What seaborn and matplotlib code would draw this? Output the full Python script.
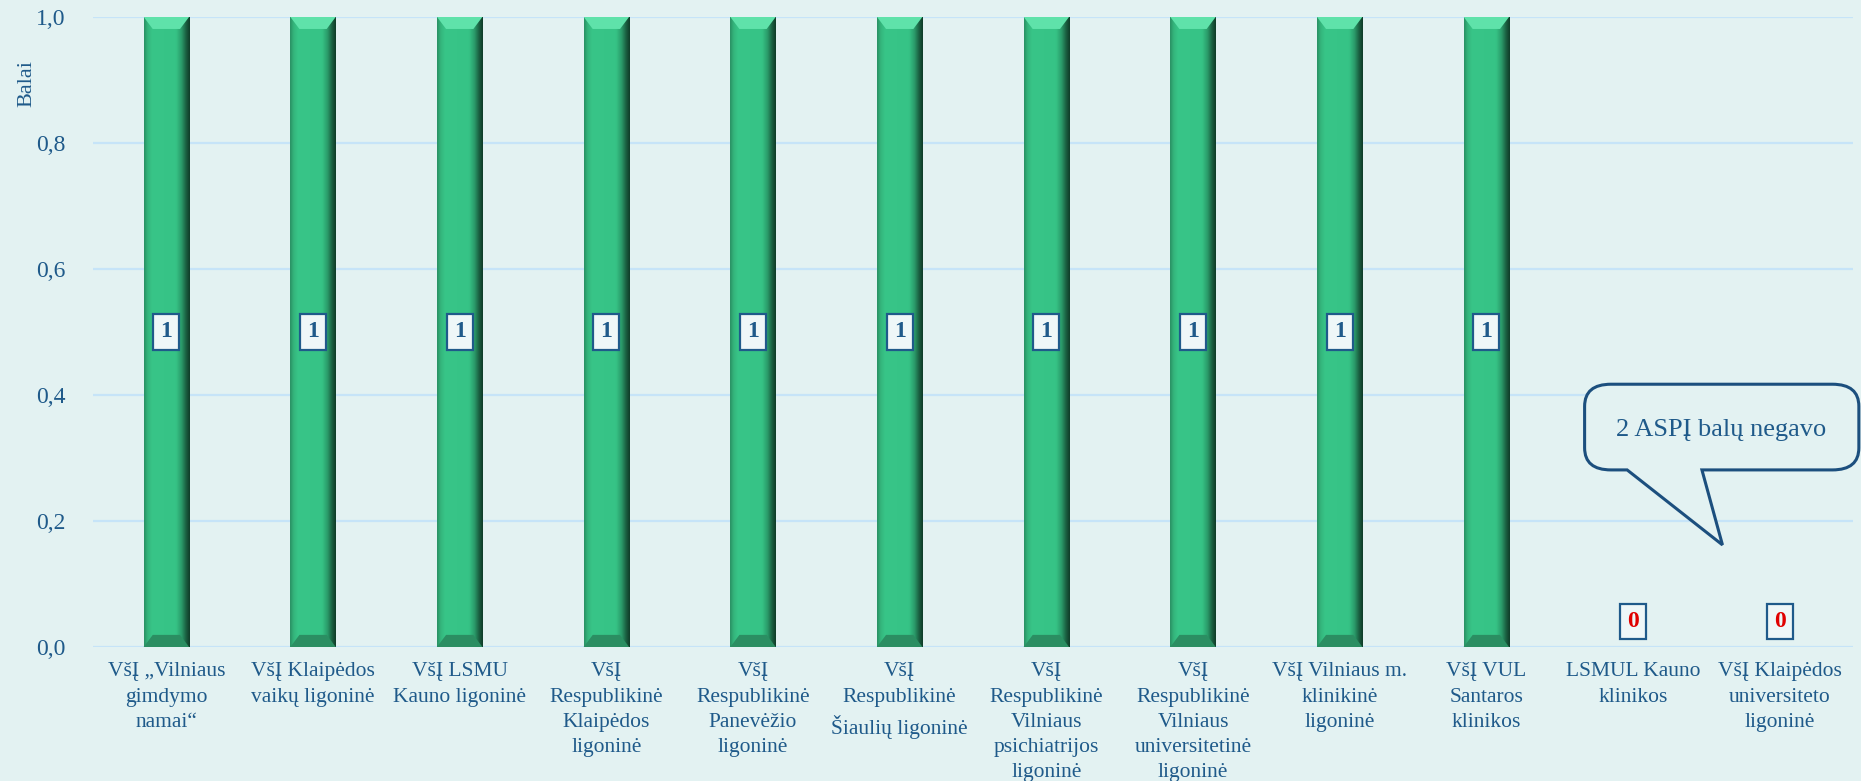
import numpy as np
import pandas as pd
import matplotlib
matplotlib.use("Agg")
import matplotlib.pyplot as plt
import seaborn as sns
from matplotlib.patches import Polygon, PathPatch
from matplotlib.path import Path
from matplotlib.colors import LinearSegmentedColormap

categories = [
    "VšĮ „Vilniaus\ngimdymo\nnamai“",
    "VšĮ Klaipėdos\nvaikų ligoninė",
    "VšĮ LSMU\nKauno ligoninė",
    "VšĮ\nRespublikinė\nKlaipėdos\nligoninė",
    "VšĮ\nRespublikinė\nPanevėžio\nligoninė",
    "VšĮ\nRespublikinė\nŠiaulių ligoninė",
    "VšĮ\nRespublikinė\nVilniaus\npsichiatrijos\nligoninė",
    "VšĮ\nRespublikinė\nVilniaus\nuniversitetinė\nligoninė",
    "VšĮ Vilniaus m.\nklinikinė\nligoninė",
    "VšĮ VUL\nSantaros\nklinikos",
    "LSMUL Kauno\nklinikos",
    "VšĮ Klaipėdos\nuniversiteto\nligoninė",
]
values = [1, 1, 1, 1, 1, 1, 1, 1, 1, 1, 0, 0]
y_ticks = [0.0, 0.2, 0.4, 0.6, 0.8, 1.0]
y_label = "Balai"
callout_text = "2 ASPĮ balų negavo"

BG = "#E3F2F2"
TXT = "#1F5A8A"
GRID = "#C6E4F8"
GREEN = "#36C587"

sns.set_theme(style="white")
plt.rcParams["font.family"] = ["Liberation Serif", "DejaVu Serif"]

fig = plt.figure(figsize=(18.61, 7.81), dpi=100, facecolor=BG)
ax = fig.add_axes([0.05, 0.1716, 0.9457, 0.8068])
ax.set_facecolor(BG)

df = pd.DataFrame({"cat": categories, "val": values})
sns.barplot(data=df, x="cat", y="val", color=GREEN, width=0.31, saturation=1,
            edgecolor="none", ax=ax, zorder=3)

ax.set_xlim(-0.5, len(categories) - 0.5)
ax.set_ylim(0, 1.0)

# 3D bevel effect on bars via gradient clipped to each bar
cmap = LinearSegmentedColormap.from_list(
    "bev", [(0.0, "#2A8F63"), (0.08, "#34B57C"), (0.18, "#38C588"),
            (0.7, "#36C386"), (0.82, "#2A9A69"), (0.92, "#1A5E40"), (1.0, "#0F3A27")])
grad = np.linspace(0, 1, 256).reshape(1, -1)
for p, v in zip(ax.patches, values):
    h = p.get_height()
    if h <= 0:
        continue
    x0, w = p.get_x(), p.get_width()
    im = ax.imshow(grad, extent=(x0, x0 + w, 0, h), aspect="auto", cmap=cmap,
                   zorder=3.1, interpolation="bicubic")
    im.set_clip_path(p)
    d = 0.012
    top = Polygon([(x0, h), (x0 + w, h), (x0 + w * 0.8, h - d * 1.6), (x0 + w * 0.2, h - d * 1.6)],
                  closed=True, facecolor="#5FE2AA", edgecolor="none", zorder=3.2)
    ax.add_patch(top)
    bot = Polygon([(x0, 0), (x0 + w, 0), (x0 + w * 0.8, d * 1.6), (x0 + w * 0.2, d * 1.6)],
                  closed=True, facecolor="#2B8E62", edgecolor="none", zorder=3.2)
    ax.add_patch(bot)

ax.set_xlim(-0.5, len(categories) - 0.5)
ax.set_ylim(0, 1.0)

# value labels
for p, v in zip(ax.patches, values):
    cx = p.get_x() + p.get_width() / 2
    if v > 0:
        ax.text(cx, v / 2, f"{v}", ha="center", va="center", fontsize=17, fontweight="bold",
                color=TXT, zorder=5,
                bbox=dict(boxstyle="square,pad=0.3", facecolor="#EEF7F8", edgecolor=TXT, linewidth=1.6))
    else:
        ax.annotate(f"{v}", (cx, v), xytext=(0, 11), textcoords="offset points",
                    ha="center", va="bottom", fontsize=17, fontweight="bold", color="#E00000",
                    zorder=5,
                    bbox=dict(boxstyle="square,pad=0.3", facecolor="#EEF7F8", edgecolor=TXT, linewidth=1.6))

ax.set_yticks(y_ticks)
ax.set_yticklabels([f"{t:.1f}".replace(".", ",") for t in y_ticks])
ax.yaxis.grid(True, color=GRID, linewidth=1.6, zorder=0)
ax.set_axisbelow(True)
for s in ax.spines.values():
    s.set_visible(False)
ax.tick_params(axis="both", length=0, colors=TXT)
ax.tick_params(axis="y", pad=20, labelsize=17)
ax.tick_params(axis="x", pad=11, labelsize=15.5)
for lab in ax.get_xticklabels():
    lab.set_linespacing(1.45)
ax.set_xlabel("")
ax.set_ylabel(y_label, color=TXT, fontsize=16)
ax.yaxis.set_label_coords(-0.0324, 0.895)

# speech-bubble callout
x0, x1 = 9.67, 11.54
y0, y1 = 0.281, 0.417
tx0, tx1 = 9.96, 10.47
tipx, tipy = 10.61, 0.162
r_x, r_y = 0.18, 0.035
verts = [
    (x0 + r_x, y1), (x1 - r_x, y1), (x1, y1), (x1, y1 - r_y),
    (x1, y0 + r_y), (x1, y0), (x1 - r_x, y0),
    (tx1, y0), (tipx, tipy), (tx0, y0),
    (x0 + r_x, y0), (x0, y0), (x0, y0 + r_y),
    (x0, y1 - r_y), (x0, y1), (x0 + r_x, y1),
    (x0 + r_x, y1),
]
codes = [Path.MOVETO, Path.LINETO, Path.CURVE3, Path.CURVE3,
         Path.LINETO, Path.CURVE3, Path.CURVE3,
         Path.LINETO, Path.LINETO, Path.LINETO,
         Path.LINETO, Path.CURVE3, Path.CURVE3,
         Path.LINETO, Path.CURVE3, Path.CURVE3,
         Path.CLOSEPOLY]
bubble = PathPatch(Path(verts, codes), facecolor=BG, edgecolor="#1C4F7E", linewidth=2.2,
                   zorder=6, clip_on=False)
ax.add_patch(bubble)
ax.text(10.6, 0.344, callout_text, ha="center", va="center", fontsize=19, color=TXT, zorder=7)

fig.savefig("out.png", dpi=100, facecolor=BG)
